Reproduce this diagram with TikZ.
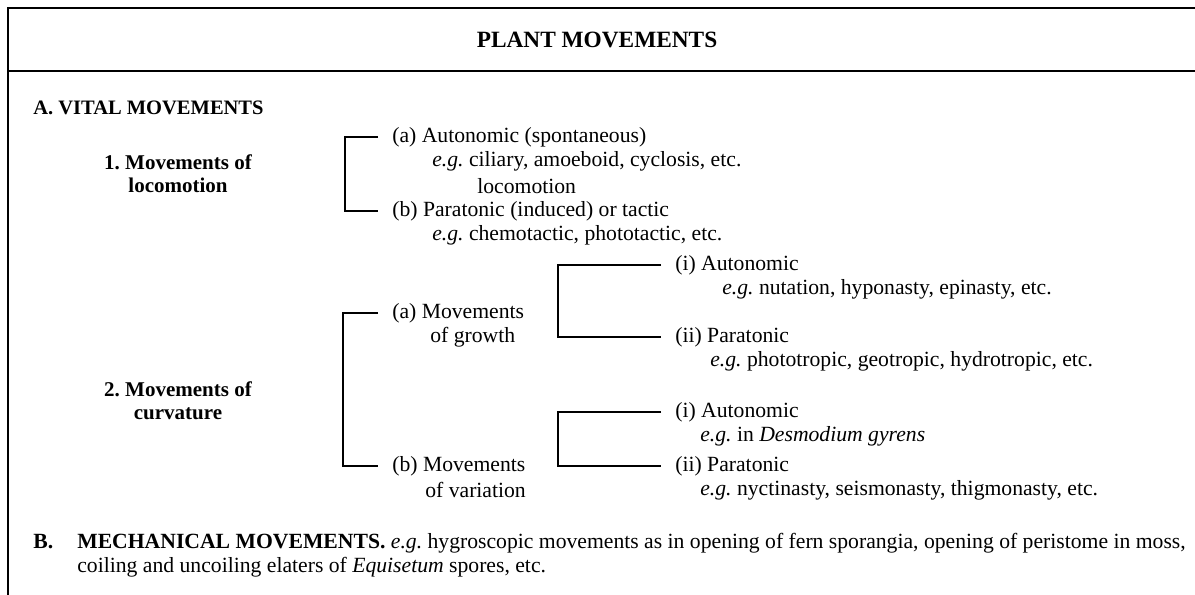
\documentclass[tikz,border=0pt]{standalone}
\usepackage{fontspec}
\setmainfont{Liberation Serif}
\usetikzlibrary{positioning}

\begin{document}
\begin{tikzpicture}[
    x=0.6pt, y=-0.6pt,
    txt/.style={anchor=west, inner xsep=8.4pt, inner ysep=1pt, font=\fontsize{13}{14.4}\selectfont},
    head/.style={anchor=west, inner sep=0pt, font=\fontsize{12.3}{13}\selectfont\bfseries},
    group/.style={align=center, inner sep=0pt, font=\fontsize{12.6}{13.8}\selectfont\bfseries},
    line/.style={anchor=base west, inner sep=0pt, font=\fontsize{13}{14.4}\selectfont},
    brace/.style={line width=1.3pt},
    rule/.style={line width=1pt}
]
\useasboundingbox (0,0) rectangle (1195,595);
% Frame and title
\draw[rule] (1195,8) -- (8,8) -- (8,595);
\draw[rule] (8,71) -- (1195,71);
\node[font=\fontsize{14}{16}\selectfont\bfseries] (title) at (597,40) {PLANT MOVEMENTS};

% A. Vital movements
\node[head] (vital) at (33,108) {A. VITAL MOVEMENTS};

% 1. Locomotion
\node[group] (loco) at (178,174) {1.\ Movements of\\locomotion};
\node[txt] (autA) at (378,137) {(a) Autonomic (spontaneous)};
\node[txt] (autAeg) at (418,161) {\textit{e.g.}\ ciliary, amoeboid, cyclosis, etc.};
\node[txt] (autAloc) at (463,186) {locomotion};
\node[txt] (parA) at (378,211) {(b) Paratonic (induced) or tactic};
\node[txt] (parAeg) at (418,235) {\textit{e.g.}\ chemotactic, phototactic, etc.};
\draw[brace] (autA.west) -- ++(-33,0) |- (parA.west);

% 2. Curvature
\node[group] (curv) at (178,401) {2.\ Movements of\\curvature};
\node[txt] (movG) at (378,313) {(a) Movements};
\node[txt] (movGb) at (416,337) {of growth};
\node[txt] (movV) at (378,466) {(b) Movements};
\node[txt] (movVb) at (411,490) {of variation};
\draw[brace] (movG.west) -- ++(-35,0) |- (movV.west);

% growth
\node[txt] (autG) at (661,265) {(i) Autonomic};
\node[txt] (autGeg) at (708,289) {\textit{e.g.}\ nutation, hyponasty, epinasty, etc.};
\node[txt] (parG) at (661,337) {(ii) Paratonic};
\node[txt] (parGeg) at (696,361) {\textit{e.g.}\ phototropic, geotropic, hydrotropic, etc.};
\draw[brace] (autG.west) -- ++(-103,0) |- (parG.west);

% variation
\node[txt] (autV) at (661,412) {(i) Autonomic};
\node[txt] (autVeg) at (686,436) {\textit{e.g.}\ in \textit{Desmodium gyrens}};
\node[txt] (parV) at (661,466) {(ii) Paratonic};
\node[txt] (parVeg) at (686,490) {\textit{e.g.}\ nyctinasty, seismonasty, thigmonasty, etc.};
\draw[brace] (autV.west) -- ++(-103,0) |- (parV.west);

% B. Mechanical movements
\node[line, font=\fontsize{13}{14.4}\selectfont\bfseries] (mech) at (33,548) {B.};
\node[line] (mechA) at (77,548) {\textbf{MECHANICAL MOVEMENTS.} \textit{e.g.}\ hygroscopic movements as in opening of fern sporangia, opening of peristome in moss,};
\node[line] (mechB) at (77,572) {coiling and uncoiling elaters of \textit{Equisetum} spores, etc.};
\end{tikzpicture}
\end{document}
